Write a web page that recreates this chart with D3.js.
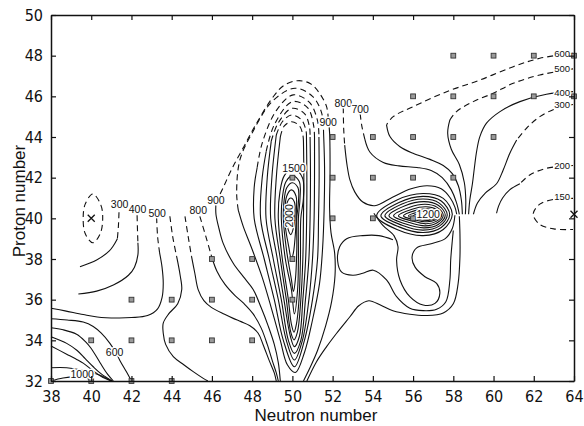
<!DOCTYPE html>
<html>
<head>
<meta charset="utf-8">
<script src="https://cdn.jsdelivr.net/npm/d3@7"></script>
<style>
  body { margin: 0; background: #fff; }
  text { font-family: "Liberation Sans", Arial, sans-serif; }
  .tick text { font-family: "Liberation Sans Narrow", "DejaVu Sans Condensed", "Liberation Sans", sans-serif; }
</style>
</head>
<body>
<svg id="chart" width="584" height="426"></svg>
<script>
// ---- axes ----
const xTicks = [38, 40, 42, 44, 46, 48, 50, 52, 54, 56, 58, 60, 62, 64];
const yTicks = [32, 34, 36, 38, 40, 42, 44, 46, 48, 50];

// ---- measured nuclei (squares) and minima (crosses), [N, Z] ----
const samples = [
  [38,32],[40,32],[42,32],[44,32],
  [40,34],[42,34],[44,34],[46,34],[48,34],
  [42,36],[44,36],[46,36],[48,36],[50,36],
  [46,38],[48,38],[50,38],
  [50,40],[52,40],[54,40],[56,40],
  [50,42],[52,42],[54,42],[56,42],[58,42],
  [52,44],[54,44],[56,44],[58,44],[60,44],
  [56,46],[58,46],[60,46],[62,46],[64,46],
  [58,48],[60,48],[62,48],[64,48]
];
const minima = [[40,40],[64,40.2]];

// ---- contour lines, points as [N, Z] ----
// light region, left side
const leftDashed = [
  [[41.38,40.3],[41.35,39.6],[41.3,39.0]],
  [[42.28,40.15],[42.3,39.4],[42.32,38.8]],
  [[43.25,40.05],[43.3,39.1],[43.4,38.3]],
  [[43.91,40.1],[44.05,39.1],[44.25,38.1]],
  [[44.66,40.1],[44.82,39.1],[44.99,38.1]],
  [[45.4,40.1],[45.7,39.1],[45.99,38.1]]
];
const leftSolid = [
  [[41.3,39.0],[41.1,38.65],[40.9,38.4],[40.27,37.95],[39.44,37.62]],
  [[42.32,38.8],[42.32,38.2],[42.15,37.6],[41.85,37.2],[41.1,36.72],[40.27,36.42],[39.36,36.28]],
  [[43.4,38.3],[43.52,37.6],[43.58,36.8],[43.52,36.1],[43.3,35.55],[42.8,35.22],[42.0,35.12],[41.27,35.1],[40.3,35.15],[39.6,35.27],[38.7,35.45],[38.0,35.58]],
  [[44.25,38.1],[44.42,37.2],[44.5,36.5],[44.3,35.8],[43.85,35.3],[43.58,34.85],[43.58,34.35],[43.7,33.8],[44.08,33.2],[44.6,32.8],[45.07,32.46],[45.57,32.13],[45.8,32.0]],
  [[44.99,38.1],[45.15,37.3],[45.32,36.48],[45.6,35.95],[45.97,35.62],[46.63,35.28],[47.06,35.08],[47.45,34.92],[47.89,34.72],[48.3,34.35],[48.55,33.77],[48.85,33.0],[49.1,32.4],[49.2,32.0]],
  [[45.99,38.1],[46.25,37.4],[46.65,36.75],[47.15,36.2],[47.6,35.8],[48.05,35.3],[48.45,34.6],[48.75,33.8],[49.0,33.0],[49.2,32.4],[49.3,32.0]],
  [[46.2,40.75],[46.2,40.2],[46.35,39.5],[46.56,38.77],[47.06,37.79],[47.56,37.13],[48.05,36.5],[48.45,35.6],[48.8,34.7],[49.1,33.8],[49.3,32.9],[49.4,32.0]],
  // lower left corner
  [[38.0,35.06],[38.8,35.0],[39.6,34.9],[40.1,34.68],[40.5,34.35],[40.93,33.85],[41.25,33.35],[41.43,33.0],[41.75,32.45],[42.0,32.0]],
  [[38.0,34.62],[38.6,34.52],[39.27,34.3],[39.7,33.95],[40.0,33.6],[40.44,32.9],[40.8,32.35],[41.1,32.0]],
  [[38.0,34.18],[38.78,33.85],[39.3,33.5],[39.7,33.1],[40.1,32.7],[40.5,32.35],[41.05,32.0]],
  [[38.0,33.72],[38.78,33.32],[39.3,33.05],[39.6,32.88],[40.1,32.5],[40.5,32.22],[41.0,32.0]],
  [[38.0,32.65],[38.78,32.65],[39.6,32.52],[40.44,32.28],[41.0,32.0]],
  [[38.0,32.0],[38.6,32.15],[39.3,32.2],[39.8,32.12],[40.1,32.0]]
];

// peak at N=50: dashed upper arches and their solid remainder
const peakDashed = [
  [[46.2,40.75],[46.6,41.6],[47.0,42.45],[47.6,43.55],[48.22,44.68],[49.05,45.98],[49.6,46.55],[50.29,46.77],[50.9,46.62],[51.35,46.15],[51.7,45.49],[51.78,44.95]],
  [[47.31,40.4],[47.23,41.23],[47.39,42.87],[48.0,44.2],[49.0,45.75],[50.13,46.4],[51.0,46.0],[51.45,45.2],[51.55,44.2]],
  [[48.25,42.5],[48.5,43.7],[49.2,45.3],[50.04,46.07],[50.85,45.7],[51.25,44.8],[51.32,44.0]],
  [[48.7,43.3],[49.1,44.6],[50.0,45.74],[50.75,45.45],[51.05,44.6],[51.1,44.0]],
  [[48.95,43.8],[49.3,44.7],[49.98,45.41],[50.6,45.15],[50.85,44.5],[50.88,44.0]],
  [[49.2,44.1],[49.5,44.75],[49.96,45.08],[50.45,44.85],[50.68,44.3],[50.7,44.0]],
  [[49.4,44.0],[49.6,44.55],[49.96,44.75],[50.35,44.55],[50.52,44.1],[50.55,43.8]]
];
const peakSolid = [
  [[51.78,44.95],[51.85,44.2],[51.87,43.3],[51.87,42.0],[51.85,40.5],[51.92,39.3],[52.1,38.3],[52.12,37.2],[51.95,35.9],[51.65,34.7],[51.25,33.5],[50.85,32.6],[50.55,32.0]],
  [[51.55,44.2],[51.6,42.5],[51.58,40.5],[51.5,38.5],[51.35,36.8],[51.0,35.0],[50.6,33.4],[50.15,32.42],[49.75,32.8],[49.4,34.0],[48.95,35.6],[48.5,37.1],[47.95,38.6],[47.56,39.59],[47.31,40.4]],
  [[51.32,44.0],[51.33,42.0],[51.3,40.0],[51.25,38.0],[51.0,36.0],[50.6,34.0],[50.1,32.7],[49.55,34.0],[49.1,36.0],[48.6,38.0],[48.1,40.0],[48.1,41.5],[48.25,42.5]],
  [[51.1,44.0],[51.1,42.0],[51.08,40.0],[51.0,38.0],[50.82,36.0],[50.5,34.0],[50.1,33.03],[49.7,34.0],[49.3,36.0],[48.85,38.0],[48.42,40.0],[48.5,42.0],[48.7,43.3]],
  [[50.88,44.0],[50.9,42.0],[50.88,40.0],[50.82,38.0],[50.65,36.0],[50.42,34.0],[50.1,33.36],[49.8,34.0],[49.45,36.0],[49.05,38.0],[48.69,40.0],[48.75,42.0],[48.95,43.8]],
  [[50.7,44.0],[50.72,42.0],[50.71,40.0],[50.66,38.0],[50.52,36.0],[50.35,34.2],[50.1,33.69],[49.9,34.2],[49.58,36.0],[49.25,38.0],[48.92,40.0],[48.98,42.0],[49.2,44.1]],
  [[50.55,43.8],[50.57,42.0],[50.55,40.0],[50.52,38.0],[50.42,36.0],[50.25,34.4],[50.08,34.02],[49.92,34.4],[49.7,36.0],[49.4,38.0],[49.13,40.0],[49.2,42.0],[49.4,44.0]]
];
const peakLoops = [
  [[50.04,42.46],[50.5,42.0],[50.55,41.0],[50.42,40.0],[50.4,38.0],[50.33,36.0],[50.2,34.8],[50.08,34.4],[49.95,34.8],[49.8,36.0],[49.5,38.0],[49.3,40.0],[49.38,41.3],[49.6,42.1]],
  [[50.02,42.1],[50.35,41.8],[50.38,41.0],[50.3,40.0],[50.3,38.0],[50.26,36.5],[50.1,35.3],[49.95,36.5],[49.65,38.0],[49.45,40.0],[49.5,41.0],[49.68,41.8]],
  [[50.0,41.75],[50.28,41.5],[50.3,40.8],[50.22,40.0],[50.22,38.5],[50.15,37.0],[50.05,36.4],[49.95,37.0],[49.7,38.5],[49.55,40.0],[49.58,40.8],[49.72,41.5]],
  [[49.95,41.4],[50.18,41.1],[50.2,40.4],[50.16,39.4],[50.05,38.3],[49.95,38.0],[49.82,38.6],[49.65,39.6],[49.63,40.4],[49.72,41.1]],
  [[49.92,41.0],[50.1,40.8],[50.13,40.2],[50.07,39.6],[49.92,39.2],[49.75,39.6],[49.7,40.2],[49.75,40.8]]
];

// between the peaks and the peak at N=56-57
const midDashed = [
  [[52.53,45.45],[52.55,44.4],[52.6,43.6]],
  [[53.37,45.15],[53.45,44.55],[53.6,43.9]]
];
const midSolid = [
  [[52.6,43.6],[52.72,42.6],[52.86,41.89],[53.1,41.3],[53.5,40.8],[54.1,40.62],[55.0,41.05],[55.9,41.45],[56.7,41.6],[57.4,41.45],[57.85,41.0],[58.08,40.55],[58.17,40.2]],
  [[53.6,43.9],[53.86,43.25],[54.52,42.75],[55.3,42.58],[56.2,42.5],[56.9,42.35],[57.45,42.0],[57.9,41.4],[58.15,40.8],[58.3,40.2]],
  [[54.05,40.25],[54.5,39.65],[55.05,39.15],[55.25,38.6],[55.18,37.95],[55.35,36.97],[55.84,36.15],[56.5,35.74],[57.09,35.82],[57.33,36.31],[57.17,36.8],[56.59,37.13],[56.1,37.6],[55.95,38.1],[56.18,38.55],[56.9,38.75],[57.6,39.0],[57.95,39.5],[58.08,40.15]],
  [[55.0,38.95],[54.3,39.15],[53.5,39.15],[52.7,39.0],[52.35,38.6],[52.25,37.9],[52.45,37.35],[53.0,37.2],[53.5,37.3],[54.02,37.45],[54.68,36.97],[55.18,36.15],[55.84,35.58],[56.5,35.46],[57.17,35.53],[57.63,35.9],[57.83,36.97],[57.87,37.95],[57.95,38.9],[58.0,39.4]],
  [[50.72,32.0],[51.2,32.95],[51.7,33.69],[52.2,34.35],[52.86,35.16],[53.3,35.7],[53.8,35.95],[54.4,35.72],[55.0,35.45],[55.84,35.28],[56.67,35.22],[57.5,35.35],[58.0,35.8],[58.24,36.8],[58.33,38.1],[58.33,39.26],[58.3,40.1]]
];
const loops56 = [
  [[54.19,40.12],[55.2,40.9],[56.5,41.22],[57.5,40.98],[57.95,40.2],[57.5,39.45],[56.5,39.15],[55.2,39.45]],
  [[54.4,40.12],[55.3,40.78],[56.5,41.08],[57.4,40.85],[57.82,40.18],[57.4,39.55],[56.5,39.3],[55.3,39.58]],
  [[54.6,40.12],[55.45,40.7],[56.5,40.95],[57.3,40.75],[57.7,40.17],[57.32,39.63],[56.5,39.42],[55.45,39.66]],
  [[54.8,40.12],[55.6,40.62],[56.55,40.82],[57.25,40.64],[57.6,40.16],[57.25,39.7],[56.55,39.53],[55.6,39.73]],
  [[55.03,40.12],[55.8,40.53],[56.6,40.69],[57.2,40.54],[57.5,40.15],[57.2,39.78],[56.6,39.63],[55.8,39.8]],
  [[55.27,40.12],[55.95,40.45],[56.65,40.57],[57.15,40.45],[57.42,40.14],[57.15,39.85],[56.65,39.73],[55.95,39.87]],
  [[55.52,40.12],[56.1,40.38],[56.7,40.47],[57.1,40.38],[57.35,40.13],[57.1,39.92],[56.7,39.83],[56.1,39.92]],
  [[55.77,40.12],[56.25,40.31],[56.75,40.38],[57.05,40.3],[57.28,40.13],[57.05,39.97],[56.75,39.9],[56.25,39.96]],
  [[56.0,40.12],[56.4,40.26],[56.8,40.31],[57.0,40.25],[57.2,40.12],[57.0,40.01],[56.8,39.96],[56.4,40.0]]
];

// right side, open towards N=64
const rightDashed = [
  [[63.95,48.12],[62.3,47.87],[60.98,47.46],[59.32,46.8],[57.67,46.23],[56.0,45.49],[55.01,45.0],[54.68,44.6]],
  [[63.95,47.35],[62.3,47.05],[60.98,46.64],[59.98,46.15],[58.99,45.74],[58.16,45.25],[57.83,44.84]],
  [[63.95,45.6],[63.13,45.41],[62.3,45.0],[61.64,44.43],[61.15,43.85]],
  [[63.95,42.6],[62.63,42.46],[61.8,42.13],[61.31,41.7]],
  [[63.95,40.98],[63.0,40.93],[62.3,40.7],[61.97,40.2],[62.3,39.7],[63.0,39.48],[63.95,39.45]]
];
const rightSolid = [
  [[54.68,44.6],[54.85,44.02],[55.35,43.52],[56.0,43.2],[56.84,42.9],[57.5,42.6],[57.95,42.2],[58.25,41.6],[58.4,40.9],[58.45,40.2]],
  [[57.83,44.84],[57.72,44.2],[57.9,43.4],[58.3,42.65],[58.55,41.75],[58.62,40.9],[58.6,40.2]],
  [[63.95,46.23],[62.63,46.1],[61.31,45.74],[60.32,45.25],[59.65,44.68],[59.32,44.02],[59.16,43.3],[59.05,42.5],[58.95,41.7],[58.82,40.9],[58.76,40.2]],
  [[61.15,43.85],[60.81,43.2],[60.48,42.38],[60.15,41.7],[59.6,41.25],[59.2,40.75],[59.0,40.2]],
  [[61.31,41.7],[60.8,41.4],[60.45,41.0],[60.25,40.6],[60.15,40.25]]
];

// closed dashed ring round the minimum at (40,40)
const dashedRings = [
  [[40.08,41.2],[40.48,40.65],[40.57,40.0],[40.45,39.25],[40.08,38.8],[39.7,39.25],[39.6,40.0],[39.7,40.7]]
];

// contour values: [text, N, Z]
const contourLabels = [
  ["300",41.41,40.7],["400",42.3,40.45],["500",43.28,40.26],
  ["800",45.32,40.37],["900",46.2,40.88],
  ["600",41.16,33.43],["1000",39.55,32.33],
  ["1500",50.08,42.46],["900",51.78,44.74],["800",52.53,45.66],["700",53.37,45.35],
  ["1200",56.75,40.22]
];
const verticalLabels = [["2000",49.86,40.12]];
// values of the contours that run out at the right frame
const edgeLabels = [["600",48.12],["500",47.35],["400",46.2],["300",45.6],["200",42.6],["150",41.07]];

// ---- drawing ----
const x = d3.scaleLinear().domain([38, 64]).range([51, 574]);
const y = d3.scaleLinear().domain([32, 50]).range([381, 15]);
const svg = d3.select("#chart");
const ink = "#111";

const line = d3.line().x(d => x(d[0])).y(d => y(d[1])).curve(d3.curveCatmullRom.alpha(0.5));
const ring = d3.line().x(d => x(d[0])).y(d => y(d[1])).curve(d3.curveCatmullRomClosed.alpha(0.5));

const g = svg.append("g").attr("fill", "none").attr("stroke", ink)
  .attr("stroke-width", 1.1).attr("stroke-linejoin", "round");

function drawSet(lines, gen, dashed) {
  g.selectAll(null).data(lines).enter().append("path")
    .attr("d", gen)
    .attr("stroke-dasharray", dashed ? "6,4" : null);
}
drawSet(leftSolid, line, false);
drawSet(leftDashed, line, true);
drawSet(peakSolid, line, false);
drawSet(peakDashed, line, true);
drawSet(peakLoops, ring, false);
drawSet(midSolid, line, false);
drawSet(midDashed, line, true);
drawSet(loops56, ring, false);
drawSet(rightSolid, line, false);
drawSet(rightDashed, line, true);
drawSet(dashedRings, ring, true);

// measured points
svg.append("g").selectAll("rect").data(samples).enter().append("rect")
  .attr("x", d => x(d[0]) - 2.4).attr("y", d => y(d[1]) - 2.4)
  .attr("width", 4.8).attr("height", 4.8)
  .attr("fill", "#9a9a9a").attr("stroke", "#333").attr("stroke-width", 0.9);

// minima
svg.append("g").selectAll("path").data(minima).enter().append("path")
  .attr("d", d => {
    const cx = x(d[0]), cy = y(d[1]), r = 3.5;
    return `M${cx - r},${cy - r}L${cx + r},${cy + r}M${cx - r},${cy + r}L${cx + r},${cy - r}`;
  })
  .attr("stroke", ink).attr("stroke-width", 1.3);

// contour labels, knocked out of the lines
const lab = svg.append("g").style("font-size", "10.5px");
lab.selectAll("text.cl").data(contourLabels).enter().append("text")
  .attr("class", "cl")
  .attr("x", d => x(d[1])).attr("y", d => y(d[2]))
  .attr("dy", "0.35em").attr("text-anchor", "middle")
  .attr("fill", ink)
  .attr("stroke", "#fff").attr("stroke-width", 3).attr("paint-order", "stroke")
  .text(d => d[0]);
lab.selectAll("text.vl").data(verticalLabels).enter().append("text")
  .attr("class", "vl")
  .attr("transform", d => `translate(${x(d[1])},${y(d[2])}) rotate(-90)`)
  .attr("dy", "0.35em").attr("text-anchor", "middle")
  .attr("fill", ink)
  .attr("stroke", "#fff").attr("stroke-width", 2.5).attr("paint-order", "stroke")
  .text(d => d[0]);
// no room outside the frame: set them just inside it
lab.selectAll("text.el").data(edgeLabels).enter().append("text")
  .attr("class", "el")
  .attr("x", x(64) - 4).attr("y", d => y(d[1]))
  .attr("dy", "0.35em").attr("text-anchor", "end")
  .attr("fill", ink)
  .attr("stroke", "#fff").attr("stroke-width", 3).attr("paint-order", "stroke")
  .style("font-size", "9.5px")
  .text(d => d[0]);

// axes with inward ticks on all four sides
const ax = svg.append("g");
ax.append("g").attr("transform", `translate(0,${y(32)})`)
  .call(d3.axisBottom(x).tickValues(xTicks).tickSizeInner(-5).tickSizeOuter(0).tickPadding(10));
ax.append("g").attr("transform", `translate(${x(38)},0)`)
  .call(d3.axisLeft(y).tickValues(yTicks).tickSizeInner(-5).tickSizeOuter(0).tickPadding(8));
ax.append("g").attr("transform", `translate(0,${y(50)})`)
  .call(d3.axisTop(x).tickValues(xTicks).tickSizeInner(-5).tickSizeOuter(0).tickFormat(""));
ax.append("g").attr("transform", `translate(${x(64)},0)`)
  .call(d3.axisRight(y).tickValues(yTicks).tickSizeInner(-5).tickSizeOuter(0).tickFormat(""));
ax.selectAll(".domain").attr("stroke", ink).attr("stroke-width", 1.5);
ax.selectAll(".tick line").attr("stroke", ink).attr("stroke-width", 1.2);
ax.selectAll(".tick text").style("font-size", "16px").attr("fill", ink);

svg.append("text").attr("x", 316).attr("y", 421).attr("text-anchor", "middle")
  .attr("fill", ink).style("font-size", "17px").text("Neutron number");
svg.append("text").attr("transform", "translate(25,201) rotate(-90)").attr("text-anchor", "middle")
  .attr("fill", ink).style("font-size", "17px").text("Proton number");
</script>
</body>
</html>
